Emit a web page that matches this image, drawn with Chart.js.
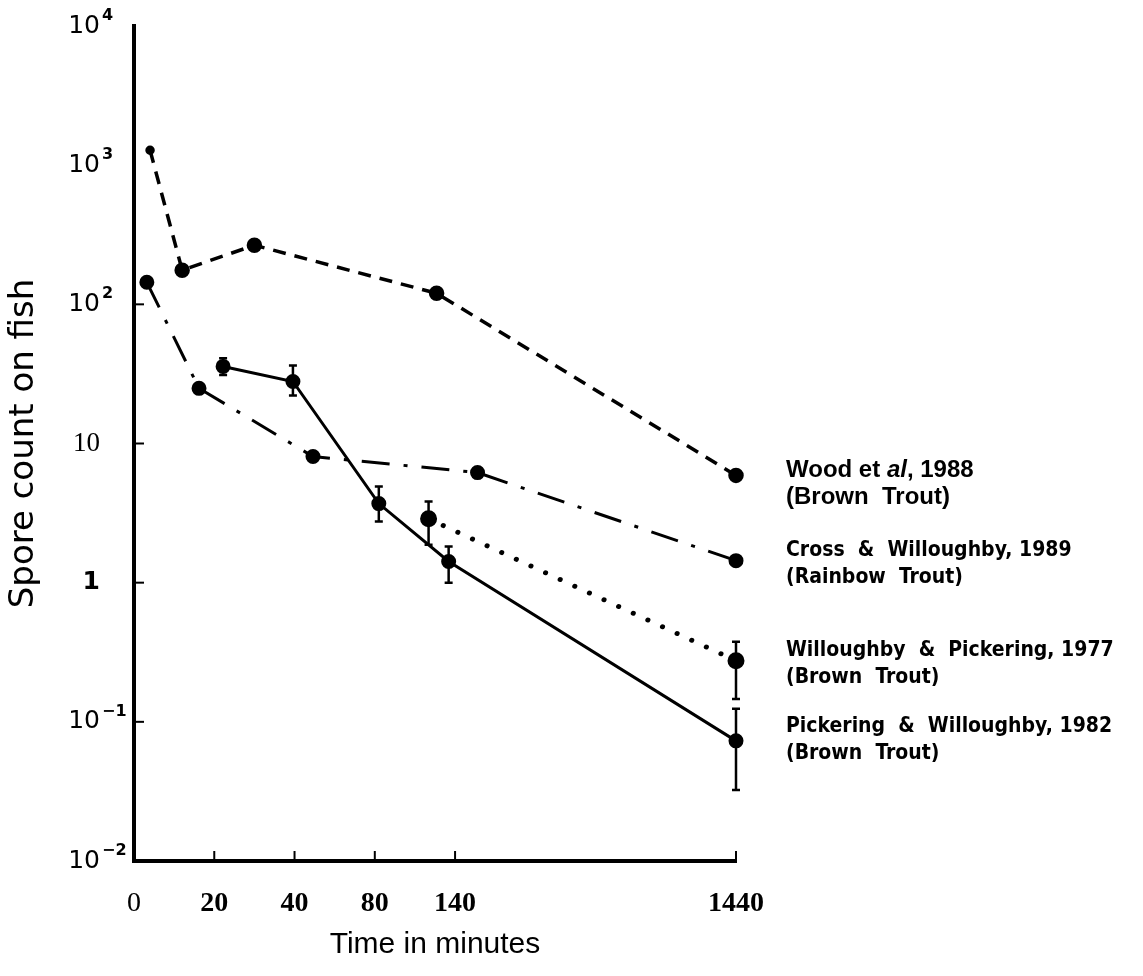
<!DOCTYPE html>
<html>
<head>
<meta charset="utf-8">
<script src="https://cdn.jsdelivr.net/npm/chart.js@4.4.1/dist/chart.umd.min.js"></script>
<style>
    html, body { margin: 0; padding: 0; background: #fff; }
    #wrap { width: 1143px; height: 976px; }
</style>
</head>
<body>
<div id="wrap"><canvas id="spores"></canvas></div>
<script>
// x axis is not linear in time: each label sits at an axis position
const xTickPos = [0, 1, 2, 3, 4, 7.5];
const xTickLabels = ['0', '20', '40', '80', '140', '1440'];

const yTickValues = [0.01, 0.1, 1, 10, 100, 1000, 10000];
const yTickBase = ['10', '10', '1', '10', '10', '10', '10'];
const yTickExp = ['-2', '-1', '', '', '2', '3', '4'];

// Wood et al, 1988 (dashed)
const woodX = [0.2, 0.6, 1.5, 3.77, 7.5];
const woodY = [1280, 176, 266, 120, 5.9];

// Cross & Willoughby, 1989 (dash-dot)
const crossX = [0.16, 0.81, 2.23, 4.28, 7.5];
const crossY = [144, 24.9, 8.06, 6.18, 1.44];

// Willoughby & Pickering, 1977 (dotted)
const will77X = [3.67, 7.5];
const will77Y = [2.88, 0.275];
const will77Hi = [3.83, 0.377];
const will77Lo = [1.87, 0.146];

// Pickering & Willoughby, 1982 (solid)
const pick82X = [1.11, 1.98, 3.05, 3.92, 7.5];
const pick82Y = [35.8, 27.9, 3.70, 1.42, 0.073];
const pick82Hi = [41, 36.4, 4.91, 1.82, 0.124];
const pick82Lo = [31, 22.1, 2.75, 1.0, 0.0324];

const legendLines = [
    [[{t: 'Wood et ', s: 'bold'}, {t: 'al', s: 'italic bold'}, {t: ', 1988', s: 'bold'}], [{t: '(Brown  Trout)', s: 'bold'}]],
    [[{t: 'Cross  &  Willoughby, 1989', s: 'bold'}], [{t: '(Rainbow  Trout)', s: 'bold'}]],
    [[{t: 'Willoughby  &  Pickering, 1977', s: 'bold'}], [{t: '(Brown  Trout)', s: 'bold'}]],
    [[{t: 'Pickering  &  Willoughby, 1982', s: 'bold'}], [{t: '(Brown  Trout)', s: 'bold'}]]
];
const legendShift = [5, 0, 0, -4];

function pts(xs, ys) {
    return xs.map((x, i) => ({x: x, y: ys[i]}));
}

const errorBars = [
    {dataset: 2, hi: will77Hi, lo: will77Lo},
    {dataset: 3, hi: pick82Hi, lo: pick82Lo}
];

const extras = {
    id: 'extras',
    afterDatasetsDraw(chart) {
        const ctx = chart.ctx;
        const x = chart.scales.x;
        const y = chart.scales.y;
        ctx.save();
        ctx.strokeStyle = '#000';
        ctx.lineWidth = 2.5;
        errorBars.forEach((eb) => {
            const ds = chart.data.datasets[eb.dataset].data;
            ds.forEach((p, i) => {
                const px = x.getPixelForValue(p.x);
                const top = y.getPixelForValue(eb.hi[i]);
                const bot = y.getPixelForValue(eb.lo[i]);
                ctx.beginPath();
                ctx.moveTo(px, top);
                ctx.lineTo(px, bot);
                ctx.moveTo(px - 4, top);
                ctx.lineTo(px + 4, top);
                ctx.moveTo(px - 4, bot);
                ctx.lineTo(px + 4, bot);
                ctx.stroke();
            });
        });
        ctx.restore();
    },
    afterDraw(chart) {
        const ctx = chart.ctx;
        const x = chart.scales.x;
        const y = chart.scales.y;
        const area = chart.chartArea;
        ctx.save();
        ctx.strokeStyle = '#000';
        ctx.lineWidth = 2;

        // inward tick marks
        xTickPos.slice(1).forEach((v) => {
            const px = x.getPixelForValue(v);
            ctx.beginPath();
            ctx.moveTo(px, area.bottom);
            ctx.lineTo(px, area.bottom - 10);
            ctx.stroke();
        });
        [0.1, 1, 10, 100].forEach((v) => {
            const py = y.getPixelForValue(v);
            ctx.beginPath();
            ctx.moveTo(area.left, py);
            ctx.lineTo(area.left + 10, py);
            ctx.stroke();
        });

        // y tick labels with superscripts
        ctx.fillStyle = '#000';
        ctx.textBaseline = 'middle';
        yTickValues.forEach((v, i) => {
            const py = y.getPixelForValue(v);
            const labelRight = area.left - 34;
            ctx.textAlign = 'right';
            if (yTickBase[i] === '10' && yTickExp[i] === '') {
                ctx.font = '27px "Liberation Serif"';
            } else if (yTickBase[i] === '1') {
                ctx.font = 'bold 25px "DejaVu Sans"';
            } else {
                ctx.font = '25px "DejaVu Sans"';
            }
            ctx.fillText(yTickBase[i], labelRight, py);
            if (yTickExp[i]) {
                ctx.textAlign = 'left';
                ctx.font = 'bold 16px "DejaVu Sans"';
                ctx.fillText(yTickExp[i].replace('-', '\u2212'), labelRight + 2, py - 10);
            }
        });

        // series labels next to each line end
        const series = [woodY, crossY, will77Y, pick82Y];
        ctx.textAlign = 'left';
        ctx.textBaseline = 'middle';
        series.forEach((ys, k) => {
            const py = y.getPixelForValue(ys[ys.length - 1]) + legendShift[k];
            const family = k === 0 ? '"Liberation Sans", Arial' : '"DejaVu Sans Condensed"';
            const size = k === 0 ? 24 : 21;
            legendLines[k].forEach((line, j) => {
                let tx = area.right + 50;
                const ty = py - 10 + j * 27;
                line.forEach((part) => {
                    ctx.font = part.s + ' ' + size + 'px ' + family;
                    ctx.fillText(part.t, tx, ty);
                    tx += ctx.measureText(part.t).width;
                });
            });
        });
        ctx.restore();
    }
};

const ctx = document.getElementById('spores').getContext('2d');
const chart = new Chart(ctx, {
    type: 'scatter',
    data: {
        datasets: [{
            label: 'Wood et al, 1988',
            data: pts(woodX, woodY),
            showLine: true,
            borderColor: '#000',
            backgroundColor: '#000',
            borderWidth: 3.5,
            borderDash: [13, 9],
            pointRadius: (c) => c.dataIndex === 0 ? 3 : 6,
            clip: false
        }, {
            label: 'Cross & Willoughby, 1989',
            data: pts(crossX, crossY),
            showLine: true,
            borderColor: '#000',
            backgroundColor: '#000',
            borderWidth: 3,
            borderDash: [28, 14, 4, 14],
            pointRadius: 6,
            clip: false
        }, {
            label: 'Willoughby & Pickering, 1977',
            data: pts(will77X, will77Y),
            showLine: true,
            borderColor: '#000',
            backgroundColor: '#000',
            borderWidth: 5,
            borderDash: [0.1, 16],
            borderCapStyle: 'round',
            pointRadius: 6,
            clip: false
        }, {
            label: 'Pickering & Willoughby, 1982',
            data: pts(pick82X, pick82Y),
            showLine: true,
            borderColor: '#000',
            backgroundColor: '#000',
            borderWidth: 3,
            pointRadius: 6,
            clip: false
        }]
    },
    options: {
        responsive: true,
        maintainAspectRatio: false,
        animation: false,
        layout: {
            padding: {top: 26, right: 407, left: 0, bottom: 0}
        },
        plugins: {
            legend: { display: false },
            tooltip: { enabled: false }
        },
        elements: {
            line: { tension: 0 }
        },
        scales: {
            x: {
                type: 'linear',
                min: 0,
                max: 7.5,
                afterBuildTicks: (scale) => {
                    scale.ticks = xTickPos.map((v) => ({value: v}));
                },
                afterFit: (scale) => { scale.height = 115; },
                grid: { display: false },
                border: { display: true, color: '#000', width: 4 },
                ticks: {
                    color: '#000',
                    padding: 18,
                    maxRotation: 0,
                    autoSkip: false,
                    font: (c) => ({
                        family: '"Liberation Serif"',
                        size: 28,
                        weight: c.index === 0 ? 'normal' : 'bold'
                    }),
                    callback: (value, index) => xTickLabels[index]
                },
                title: {
                    display: true,
                    text: 'Time in minutes',
                    color: '#000',
                    font: { family: '"Liberation Sans Narrow", "Liberation Sans"', size: 30 },
                    padding: { bottom: 13 }
                }
            },
            y: {
                type: 'logarithmic',
                min: 0.01,
                max: 10000,
                afterBuildTicks: (scale) => {
                    scale.ticks = yTickValues.map((v) => ({value: v}));
                },
                afterFit: (scale) => { scale.width = 134; },
                grid: { display: false },
                border: { display: true, color: '#000', width: 4 },
                ticks: { display: false },
                title: {
                    display: true,
                    text: 'Spore count on fish',
                    color: '#000',
                    font: { family: '"DejaVu Sans"', size: 34 },
                    padding: { top: 4 }
                }
            }
        }
    },
    plugins: [extras]
});
</script>
</body>
</html>
